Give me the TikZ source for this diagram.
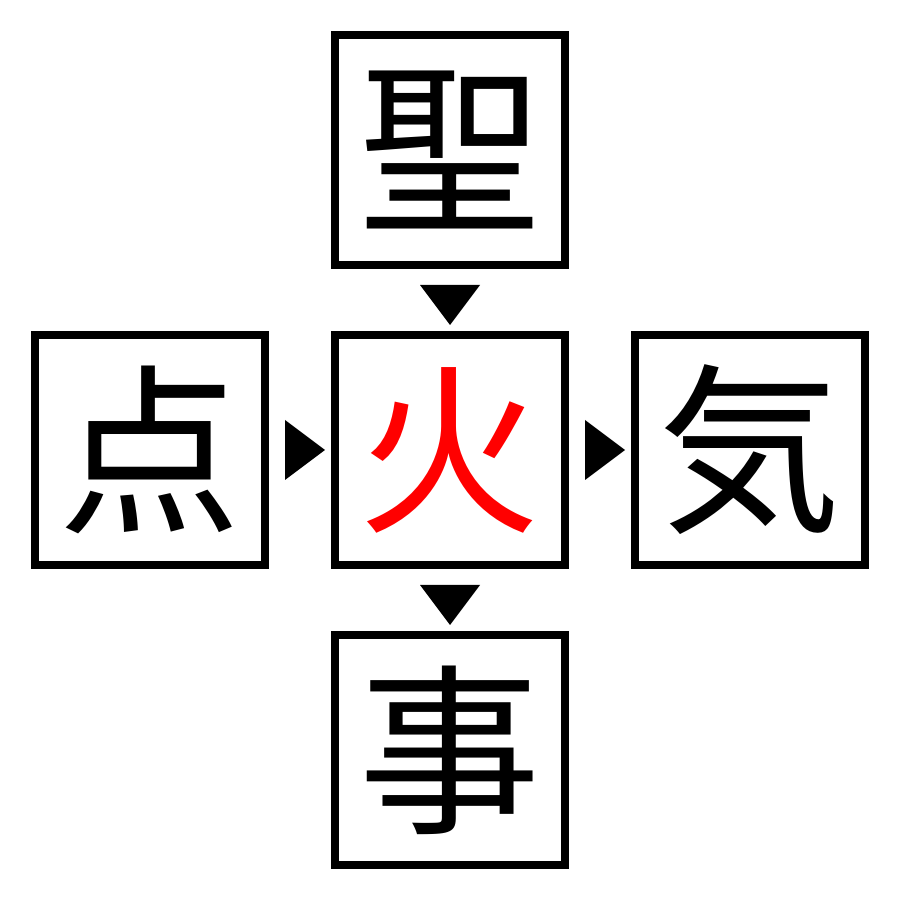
\documentclass[tikz,border=0pt]{standalone}
\usepackage{fontspec}
\newfontfamily\cjk{Noto Sans CJK JP}
\usetikzlibrary{calc}
\tikzset{
    kanji/.style={draw=black,line width=0.08cm,minimum size=2.3cm,inner sep=0pt,
        font=\cjk\fontsize{52}{52}\selectfont},
    mark/.style={fill=black}
}
\begin{document}
\begin{tikzpicture}
    \useasboundingbox (0,0) rectangle (9,9);
    \node[kanji] (top) at (4.5, 7.5) {聖};
    \node[kanji] (left) at (1.5, 4.5) {点};
    \node[kanji,text=red] (mid) at (4.5, 4.5) {火};
    \node[kanji] (right) at (7.5, 4.5) {気};
    \node[kanji] (bottom) at (4.5, 1.5) {事};

    % down pointers
    \fill ($(top.south)+(-0.3,-0.16)$) -- ($(top.south)+(0.3,-0.16)$) -- ($(top.south)+(0,-0.56)$) -- cycle;
    \fill ($(mid.south)+(-0.3,-0.16)$) -- ($(mid.south)+(0.3,-0.16)$) -- ($(mid.south)+(0,-0.56)$) -- cycle;
    % right pointers
    \fill ($(left.east)+(0.16,0.3)$) -- ($(left.east)+(0.16,-0.3)$) -- ($(left.east)+(0.56,0)$) -- cycle;
    \fill ($(mid.east)+(0.16,0.3)$) -- ($(mid.east)+(0.16,-0.3)$) -- ($(mid.east)+(0.56,0)$) -- cycle;
\end{tikzpicture}
\end{document}
